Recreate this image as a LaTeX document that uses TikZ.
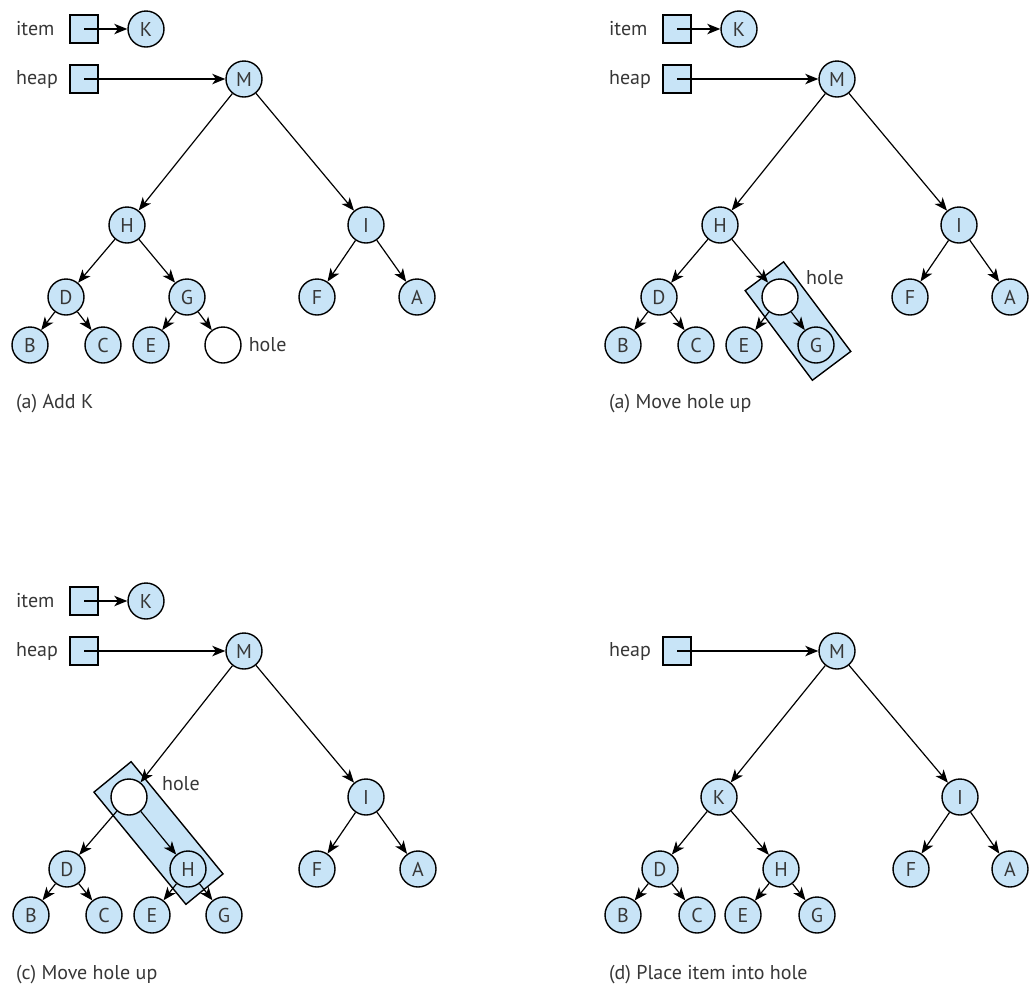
\documentclass[tikz,border=0pt]{standalone}
\usepackage{fontspec}
\setmainfont{PT Sans}
\usetikzlibrary{arrows.meta,positioning,calc,backgrounds}
\definecolor{keyblue}{RGB}{200,228,247}
\definecolor{ink}{RGB}{55,55,55}

\tikzset{
  key/.style={circle,draw,line width=0.7pt,fill=keyblue,minimum size=18pt,inner sep=0pt,text=ink},
  emptyslot/.style={key,fill=white},
  ptrbox/.style={draw,line width=0.7pt,fill=keyblue,minimum size=14pt,inner sep=0pt},
  link/.style={-{Stealth[length=6.5pt,width=5.2pt,inset=1.8pt]},line width=0.6pt},
  lbl/.style={text=ink,anchor=west},
  band/.style={draw,line width=0.7pt,fill=keyblue,minimum height=24pt,inner sep=0pt}
}

\begin{document}
\begin{tikzpicture}[x=0.5pt,y=-0.5pt,font=\fontsize{10}{12}\selectfont]
\useasboundingbox (0,0) rectangle (1029,987);

% (a) add K
\begin{scope}
  \node[lbl] (aitemlbl) at (9,29) {item};
  \node[ptrbox] (aitem) at (84,29) {};
  \node[key] (aK) at (146,29) {K};
  \node[lbl] (aheaplbl) at (9,79) {heap};
  \node[ptrbox] (aheap) at (84,79) {};
  \foreach \n/\t/\x/\y in {aM/M/244/79, aH/H/127/225, aI/I/366/225, aD/D/66/297, aG/G/187/297,
      aF/F/317/297, aA/A/417/297, aB/B/30/345, aC/C/103/345, aE/E/151/345}
    \node[key] (\n) at (\x,\y) {\t};
  \node[emptyslot] (ahole) at (223,345) {};
  \node[lbl,right=0pt of ahole] (aholelbl) {hole};
  \draw[link] (aitem.center) -- (aK);
  \draw[link] (aheap.center) -- (aM);
  \foreach \p/\c in {aM/aH,aM/aI,aH/aD,aH/aG,aI/aF,aI/aA,aD/aB,aD/aC,aG/aE,aG/ahole}
    \draw[link] (\p) -- (\c);
  \node[lbl] (acap) at (9,404) {(a) Add K};
\end{scope}

% (b) move hole up
\begin{scope}[shift={(593,0)}]
  \node[lbl] (bitemlbl) at (9,29) {item};
  \node[ptrbox] (bitem) at (84,29) {};
  \node[key] (bK) at (146,29) {K};
  \node[lbl] (bheaplbl) at (9,79) {heap};
  \node[ptrbox] (bheap) at (84,79) {};
  \foreach \n/\t/\x/\y in {bM/M/244/79, bH/H/127/225, bI/I/366/225, bD/D/66/297,
      bF/F/317/297, bA/A/417/297, bB/B/30/345, bC/C/103/345, bE/E/151/345, bG/G/223/345}
    \node[key] (\n) at (\x,\y) {\t};
  \node[emptyslot] (bhole) at (187,297) {};
  \node[lbl] (bholelbl) at (206,278) {hole};
  \begin{scope}[on background layer]
    \path let \p1=($(bG)-(bhole)$), \n1={atan2(\y1,\x1)}, \n2={veclen(\x1,\y1)+26pt} in
      node[band,rotate=\n1,minimum width=\n2] (bband) at ($(bhole)!0.5!(bG)$) {};
  \end{scope}
  \draw[link] (bitem.center) -- (bK);
  \draw[link] (bheap.center) -- (bM);
  \foreach \p/\c in {bM/bH,bM/bI,bH/bD,bH/bhole,bI/bF,bI/bA,bD/bB,bD/bC,bhole/bE,bhole/bG}
    \draw[link] (\p) -- (\c);
  \node[lbl] (bcap) at (9,404) {(a) Move hole up};
\end{scope}

% (c) move hole up
\begin{scope}[shift={(0,572)}]
  \node[lbl] (citemlbl) at (9,29) {item};
  \node[ptrbox] (citem) at (84,29) {};
  \node[key] (cK) at (146,29) {K};
  \node[lbl] (cheaplbl) at (9,79) {heap};
  \node[ptrbox] (cheap) at (84,79) {};
  \foreach \n/\t/\x/\y in {cM/M/244/79, cI/I/366/225, cD/D/67/297, cH/H/188/297,
      cF/F/317/297, cA/A/418/297, cB/B/31/343, cC/C/104/343, cE/E/152/343, cG/G/224/343}
    \node[key] (\n) at (\x,\y) {\t};
  \node[emptyslot] (chole) at (129,225) {};
  \node[lbl] (cholelbl) at (155,212) {hole};
  \begin{scope}[on background layer]
    \path let \p1=($(cH)-(chole)$), \n1={atan2(\y1,\x1)}, \n2={veclen(\x1,\y1)+26pt} in
      node[band,rotate=\n1,minimum width=\n2] (cband) at ($(chole)!0.5!(cH)$) {};
  \end{scope}
  \draw[link] (citem.center) -- (cK);
  \draw[link] (cheap.center) -- (cM);
  \foreach \p/\c in {cM/chole,cM/cI,chole/cD,chole/cH,cI/cF,cI/cA,cD/cB,cD/cC,cH/cE,cH/cG}
    \draw[link] (\p) -- (\c);
  \node[lbl] (ccap) at (9,403) {(c) Move hole up};
\end{scope}

% (d) place item into hole
\begin{scope}[shift={(593,572)}]
  \node[lbl] (dheaplbl) at (9,79) {heap};
  \node[ptrbox] (dheap) at (84,79) {};
  \foreach \n/\t/\x/\y in {dM/M/244/79, dK/K/126/225, dI/I/367/225, dD/D/67/297, dH/H/188/297,
      dF/F/318/297, dA/A/417/297, dB/B/30/343, dC/C/104/343, dE/E/150/343, dG/G/224/343}
    \node[key] (\n) at (\x,\y) {\t};
  \draw[link] (dheap.center) -- (dM);
  \foreach \p/\c in {dM/dK,dM/dI,dK/dD,dK/dH,dI/dF,dI/dA,dD/dB,dD/dC,dH/dE,dH/dG}
    \draw[link] (\p) -- (\c);
  \node[lbl] (dcap) at (9,403) {(d) Place item into hole};
\end{scope}
\end{tikzpicture}
\end{document}
